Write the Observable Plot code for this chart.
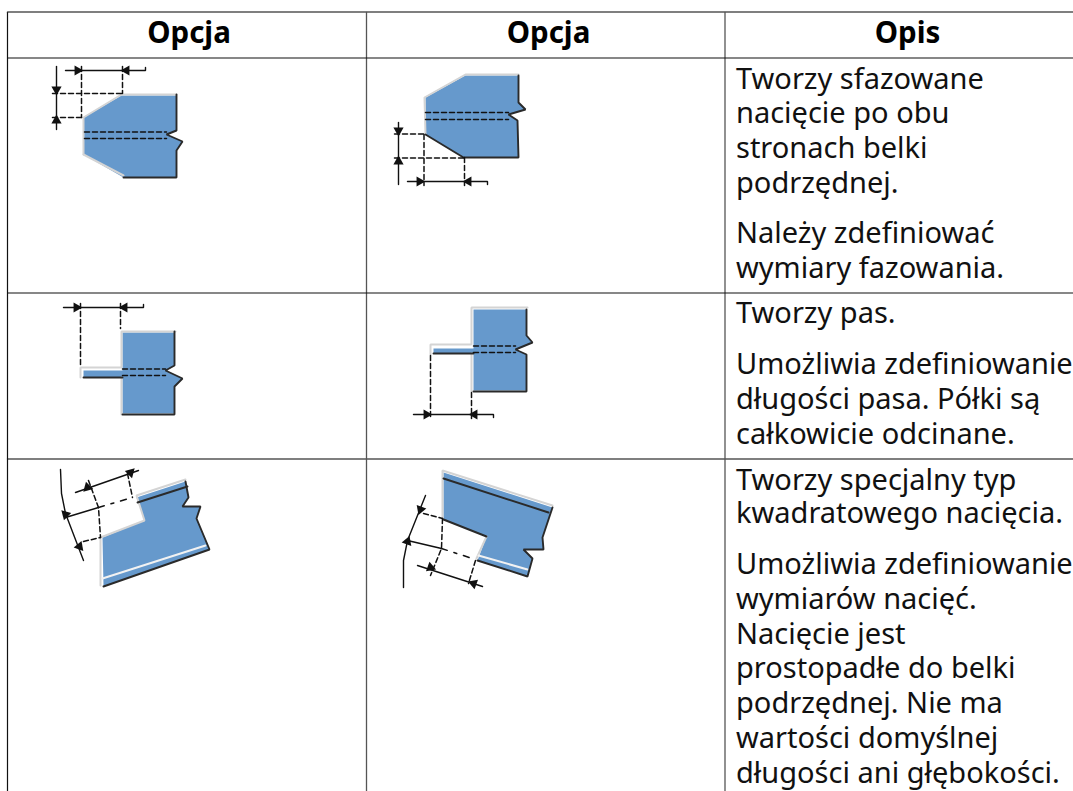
<!DOCTYPE html>
<html><head><meta charset="utf-8">
<style>html,body{margin:0;padding:0;background:#fff;overflow:hidden}svg{display:block}</style>
<script src="https://cdn.jsdelivr.net/npm/d3@7"></script>
<script src="https://cdn.jsdelivr.net/npm/@observablehq/plot@0.6"></script>
</head><body><div id="c"></div>
<script>
const headers = [["Opcja",188.5],["Opcja",548],["Opis",907]];
const descLines = [
 ["Tworzy sfazowane",88],["nacięcie po obu",122],["stronach belki",157],["podrzędnej.",192],
 ["Należy zdefiniować",242],["wymiary fazowania.",277],
 ["Tworzy pas.",322],["Umożliwia zdefiniowanie",373],["długości pasa. Półki są",408],["całkowicie odcinane.",443],
 ["Tworzy specjalny typ",489],["kwadratowego nacięcia.",522.5],
 ["Umożliwia zdefiniowanie",573],["wymiarów nacięć.",608],["Nacięcie jest",643],["prostopadłe do belki",677],
 ["podrzędnej. Nie ma",712],["wartości domyślnej",747],["długości ani głębokości.",782]
];
const gridDark = [
 [[7,57.5],[1073,57.5]],[[7,292.5],[1073,292.5]],[[7,12],[7,791]]
];
const gridGray = [
 [[7,11.5],[1073,11.5]],[[7,458.5],[1073,458.5]],[[366,12],[366,791]],[[724.5,12],[724.5,791]]
];
const bluePolys = [
 [[83,117],[121,95],[176,95],[176,130],[166,134],[182,141],[176,150],[176,177],[123,177],[83,154]],
 [[425,97],[465,75],[518,75],[518,102],[525,109],[508,114],[517,120],[518,157],[463,157],[425,134]],
 [[83,370],[122,370],[122,332],[174,332],[174,365],[165,370],[182,378],[174,386],[174,413],[122,413],[122,377],[83,377]],
 [[433,348],[473,348],[473,309],[526,309],[526,335],[532,342],[515,349],[526,354],[526,390],[473,390],[473,353],[433,353]],
 [[102,537],[144,520],[136,497],[185,481],[188,497],[182,506],[200,506],[196,518],[209,549],[103,586]],
 [[443,472],[552,507],[542,537],[543,549],[523,549],[532,558],[527,576],[477,560],[486,536],[443,519]]
];
const lightLines = [
 [[83,154],[83,117],[121,94],[176,94]],[[83,154],[123,175]],
 [[425,134],[424,97],[465,74],[518,74]],
 [[80,377],[80,367],[121,367],[121,331],[175,331]],[[121,377],[121,414]],
 [[430,354],[430,344],[471,344],[471,307],[527,307]],[[471,353],[471,391]],
 [[100,585],[100,537],[144,520],[136,495],[185,479]],
 [[442,518],[442,470],[552,505]],[[486,536],[476,558]]
];
const whiteLines = [
 [[102,578],[205,545]],[[478,555],[527,569]]
];
const darkLines = [
 [[176,94],[176,130],[166,134],[182,141],[176,150],[176,177],[123,177]],
 [[518,75],[518,102],[525,109],[508,114],[517,120],[518,157],[463,157],[425,134]],
 [[174,331],[174,365],[165,370],[182,378],[174,386],[174,414],[122,414]],[[83,377],[122,377]],
 [[526,309],[526,335],[532,342],[515,349],[526,354],[526,391],[473,391]],[[433,353],[473,353]],
 [[185,481],[188,497],[182,506],[200,506],[196,518],[209,549],[103,586]],[[137,502],[187,486]],
 [[552,507],[542,537],[543,549],[523,549],[532,558],[527,576],[477,560]],[[443,519],[486,536]],[[443,478],[548,512]]
];
const dimLines = [
 [[56,66],[56,129]],[[65,70],[145,70],[145,67]],
 [[398,122],[398,184]],[[407,181],[487,181],[487,184]],
 [[63,307],[143,307],[143,304]],
 [[413,414],[493,414],[493,417]],
 [[60,469],[61,493],[65,513],[83,560]],[[75,492],[138,470]],[[65,517],[98,507]],
 [[425,495],[407,540],[403,560],[403,587]],[[407,540],[441,548]],[[417,565],[482,586]]
];
const dashLines = [
 [[84,131.5],[166,131.5]],[[84,138],[166,138]],[[81,66],[81,117]],[[122,66],[122,93]],[[52,93],[121,93]],[[52,117],[83,117]],
 [[425,112],[508,112]],[[425,119],[508,119]],[[423.5,134],[423.5,185]],[[464,157],[464,185]],[[394,133.5],[425,133.5]],[[394,157.5],[463,157.5]],
 [[122,368.5],[165,368.5]],[[122,375],[165,375]],[[80,303],[80,367]],[[120,303],[120,328]],
 [[473,345.5],[515,345.5]],[[473,352],[515,352]],[[430,355],[430,418]],[[471,392],[471,418]],
 [[88,480],[98,507],[100,537]],[[127,473],[132,497]],[[83,541],[100,537]],
 [[442,518],[441,548],[430,575]],[[475,560],[468,583]],[[423,513],[442,518]]
];
const dashDotLines = [
 [[98,507],[132,497]],[[441,548],[475,559]]
];
const arrows = [
 [56,89,180],[56,120,0],[77,70,90],[126,70,270],
 [398,130,180],[398,161,0],[419,181,90],[468,181,270],
 [76,307,90],[124,307,270],
 [426,414,90],[474,414,270],
 [87,487,105],[130,472,285],[65,514,195],[79,546,20],
 [420,509,200],[407,541,20],[430,567,110],[473,583,290]
];
const toRows = (ls) => ls.flatMap((pts,i)=>pts.map(([x,y])=>({x,y,i})));
const soft = "blur(0.35px)";
const chart = Plot.plot({
  width:1073,height:791,margin:0,
  x:{domain:[0,1073],range:[0,1073],axis:null},
  y:{domain:[0,791],range:[0,791],axis:null},
  style:{background:"#fff"},
  marks:[
    Plot.line(toRows(bluePolys),{x:"x",y:"y",z:"i",fill:"#6699cc",stroke:"none",curve:"linear-closed",imageFilter:soft}),
    Plot.line(toRows(lightLines),{x:"x",y:"y",z:"i",stroke:"#d4d4d4",strokeWidth:2,strokeLinejoin:"miter",imageFilter:soft}),
    Plot.line(toRows(whiteLines),{x:"x",y:"y",z:"i",stroke:"#f2f2f2",strokeWidth:2,imageFilter:soft}),
    Plot.line(toRows(darkLines),{x:"x",y:"y",z:"i",stroke:"#2a2a2a",strokeWidth:1.9,strokeLinejoin:"miter",imageFilter:soft}),
    Plot.line(toRows(dimLines),{x:"x",y:"y",z:"i",stroke:"#111",strokeWidth:1.4,strokeLinejoin:"miter",imageFilter:soft}),
    Plot.line(toRows(dashLines),{x:"x",y:"y",z:"i",stroke:"#111",strokeWidth:1.5,strokeDasharray:"5,3",imageFilter:soft}),
    Plot.line(toRows(dashDotLines),{x:"x",y:"y",z:"i",stroke:"#111",strokeWidth:1.5,strokeDasharray:"6,7,3,7",imageFilter:soft}),
    Plot.dot(arrows,{x:d=>d[0],y:d=>d[1],rotate:d=>d[2],symbol:"triangle",r:3.8,fill:"#111",stroke:"none"}),
    Plot.line(toRows(gridGray),{x:"x",y:"y",z:"i",stroke:"#555",strokeWidth:1.3}),
    Plot.line(toRows(gridDark),{x:"x",y:"y",z:"i",stroke:"#111",strokeWidth:1.2}),
    Plot.text(headers,{x:d=>d[1],y:42,text:d=>d[0],fontFamily:"Noto Sans",fontWeight:"bold",fontSize:29.5,fill:"#000",textAnchor:"middle",lineAnchor:"bottom"}),
    Plot.text(descLines,{x:735.5,y:d=>d[1],text:d=>d[0],fontFamily:"Noto Sans",fontSize:29,fill:"#111",textAnchor:"start",lineAnchor:"bottom"})
  ]
});
document.getElementById("c").append(chart);
</script></body></html>
